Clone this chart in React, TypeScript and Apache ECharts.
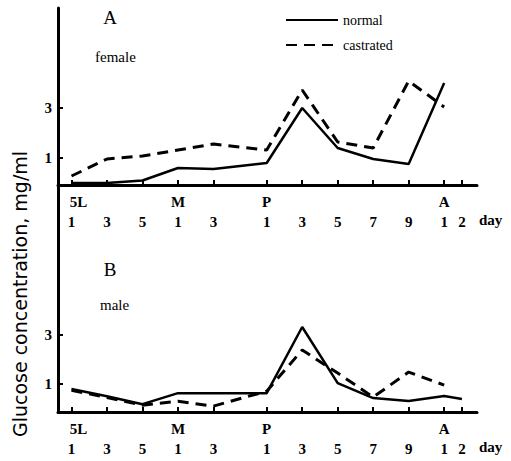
import React, { useEffect, useRef } from "react";
import * as echarts from "echarts";

// x positions in days from the first sampled day (5L day 1)
const days = [0, 2, 4, 6, 8, 11, 13, 15, 17, 19, 21, 22];
const stageLabels = ["5L", "", "", "M", "", "P", "", "", "", "", "A", ""];
const dayLabels = ["1", "3", "5", "1", "3", "1", "3", "5", "7", "9", "1", "2"];

const yTicks = [1, 3];

// Panel A: female
const normalA = [0, 0, 0.1, 0.6, 0.56, 0.8, 3.0, 1.4, 0.96, 0.76, 4.0, null];
const castratedA = [0.28, 0.96, 1.08, 1.32, 1.56, 1.32, 3.72, 1.64, 1.4, 4.08, 3.04, null];

// Panel B: male
const normalB = [0.8, 0.5, 0.18, 0.63, 0.63, 0.63, 3.33, 1.04, 0.43, 0.31, 0.51, 0.39];
const castratedB = [0.75, 0.45, 0.14, 0.3, 0.1, 0.71, 2.39, 1.45, 0.47, 1.49, 0.96, null];

const SERIF = "Liberation Serif";

function toData(vals: (number | null)[]) {
  const out: number[][] = [];
  vals.forEach((v, i) => {
    if (v !== null) out.push([days[i], v]);
  });
  return out;
}

function xAxis(gridIndex: number) {
  return {
    type: "value",
    gridIndex,
    min: -0.76,
    max: 22.85,
    name: "day",
    nameLocation: "end",
    nameGap: 2,
    nameTextStyle: {
      fontFamily: SERIF,
      fontSize: 15,
      fontWeight: "bold",
      color: "#000",
      verticalAlign: "top",
      padding: [27, 0, 0, 0],
    },
    splitLine: { show: false },
    axisLine: { show: true, onZero: false, lineStyle: { color: "#000", width: 3 } },
    axisTick: {
      show: true,
      inside: true,
      length: 5,
      customValues: days,
      lineStyle: { color: "#000", width: 2 },
    },
    axisLabel: {
      show: true,
      customValues: days,
      margin: 7,
      color: "#000",
      fontFamily: SERIF,
      fontSize: 15,
      fontWeight: "bold",
      lineHeight: 20,
      formatter: (value: number) => {
        const i = days.indexOf(value);
        if (i < 0) return "";
        const st = stageLabels[i];
        const top = st === "5L" ? `{s5|${st}}` : st ? `{s|${st}}` : `{s| }`;
        return `${top}\n{n|${dayLabels[i]}}`;
      },
      rich: {
        s: { fontFamily: SERIF, fontSize: 15, fontWeight: "bold", color: "#000", lineHeight: 20 },
        s5: {
          fontFamily: SERIF,
          fontSize: 15,
          fontWeight: "bold",
          color: "#000",
          lineHeight: 20,
          padding: [0, 0, 0, 14],
        },
        n: { fontFamily: SERIF, fontSize: 15, fontWeight: "bold", color: "#000", lineHeight: 20 },
      },
    },
  };
}

function yAxis(gridIndex: number, min: number, max: number) {
  return {
    type: "value",
    gridIndex,
    min,
    max,
    splitLine: { show: false },
    axisLine: { show: true, onZero: false, lineStyle: { color: "#000", width: 3 } },
    axisTick: {
      show: true,
      inside: true,
      length: 5,
      customValues: yTicks,
      lineStyle: { color: "#000", width: 2 },
    },
    axisLabel: {
      show: true,
      customValues: yTicks,
      margin: 6,
      color: "#000",
      fontFamily: SERIF,
      fontSize: 15,
      fontWeight: "bold",
    },
  };
}

const solid = { color: "#000", width: 2.5, type: "solid" };
const dashed = { color: "#000", width: 3, type: [11, 7] };

export default function App() {
  const ref = useRef<HTMLDivElement>(null);
  useEffect(() => {
    if (!ref.current) return;
    const chart = echarts.init(ref.current, undefined, { renderer: "svg" });
    chart.setOption({
      animation: false,
      backgroundColor: "#fff",
      color: ["#000"],
      grid: [
        { left: 58, right: 34, top: 8, height: 177 },
        { left: 58, right: 34, top: 185, height: 227 },
      ],
      xAxis: [xAxis(0), xAxis(1)],
      yAxis: [yAxis(0, -0.08, 7.0), yAxis(1, -0.14, 9.13)],
      legend: {
        data: ["normal", "castrated"],
        orient: "vertical",
        left: 285,
        top: 13,
        padding: 0,
        itemWidth: 52,
        itemHeight: 14,
        itemGap: 11,
        itemStyle: { opacity: 0 },
        textStyle: { fontFamily: SERIF, fontSize: 14, color: "#000" },
      },
      graphic: [
        {
          type: "text",
          x: 110,
          y: 17,
          style: { text: "A", fontFamily: SERIF, fontSize: 19, fill: "#000", align: "center", verticalAlign: "middle" },
        },
        {
          type: "text",
          x: 95,
          y: 57,
          style: { text: "female", fontFamily: SERIF, fontSize: 15, fill: "#000", align: "left", verticalAlign: "middle" },
        },
        {
          type: "text",
          x: 110,
          y: 269,
          style: { text: "B", fontFamily: SERIF, fontSize: 19, fill: "#000", align: "center", verticalAlign: "middle" },
        },
        {
          type: "text",
          x: 100,
          y: 305,
          style: { text: "male", fontFamily: SERIF, fontSize: 15, fill: "#000", align: "left", verticalAlign: "middle" },
        },
        {
          type: "text",
          x: 20,
          y: 294,
          rotation: Math.PI / 2,
          style: {
            text: "Glucose concentration, mg/ml",
            fontFamily: "DejaVu Sans",
            fontSize: 19,
            fill: "#000",
            align: "center",
            verticalAlign: "middle",
          },
        },
      ],
      series: [
        { name: "normal", type: "line", xAxisIndex: 0, yAxisIndex: 0, symbol: "none", itemStyle: { color: "#000" }, lineStyle: solid, data: toData(normalA) },
        { name: "castrated", type: "line", xAxisIndex: 0, yAxisIndex: 0, symbol: "none", itemStyle: { color: "#000" }, lineStyle: dashed, data: toData(castratedA) },
        { name: "normal", type: "line", xAxisIndex: 1, yAxisIndex: 1, symbol: "none", itemStyle: { color: "#000" }, lineStyle: solid, data: toData(normalB) },
        { name: "castrated", type: "line", xAxisIndex: 1, yAxisIndex: 1, symbol: "none", itemStyle: { color: "#000" }, lineStyle: dashed, data: toData(castratedB) },
      ],
    });
    return () => chart.dispose();
  }, []);
  return (
    <div
      ref={ref}
      style={{ position: "fixed", left: 0, top: 0, width: 511, height: 461, background: "#fff" }}
    />
  );
}
